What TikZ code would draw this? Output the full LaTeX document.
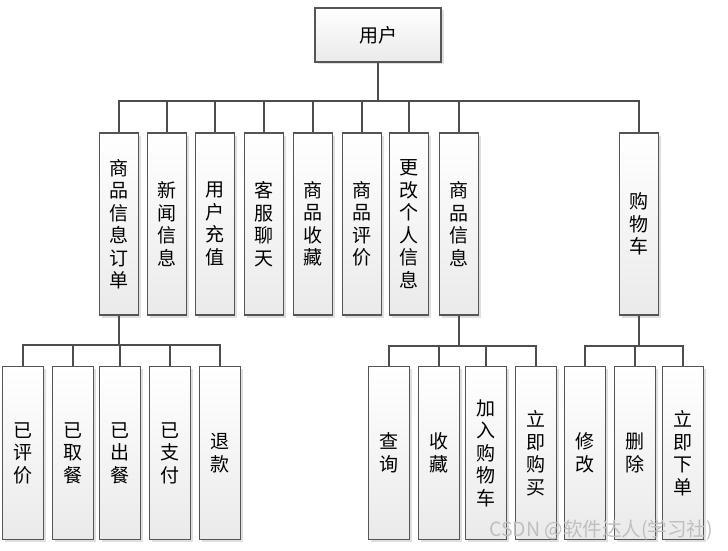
\documentclass[tikz,border=0pt]{standalone}
\usepackage{fontspec}
\setmainfont{Noto Sans CJK SC}
\usetikzlibrary{shadows}
\definecolor{boxline}{HTML}{555555}
\definecolor{boxfill}{HTML}{EAEAEA}
\definecolor{linkgray}{HTML}{4D4D4D}
\tikzset{
    rootbox/.style={rectangle, draw=boxline, line width=1.2pt, top color=white, bottom color=boxfill, minimum width=126pt, minimum height=54pt, font=\fontsize{19}{22.5}\selectfont, drop shadow={shadow xshift=2.5pt, shadow yshift=-2.5pt, fill=black!25, opacity=0.5}},
    midbox/.style={rootbox, minimum width=39pt, minimum height=182pt, align=center, inner sep=0pt},
    leafbox/.style={midbox, minimum width=41pt, minimum height=173pt},
    link/.style={draw=linkgray, line width=1.8pt}
}

\begin{document}
\begin{tikzpicture}[x=1pt, y=-1pt]
\useasboundingbox (0,0) rectangle (728,551);

% Level 0
\node[rootbox] (user) at (378,35) {用户};

% Level 1
\node[midbox] (order)    at (119,224) {商\\品\\信\\息\\订\\单};
\node[midbox] (news)     at (167,224) {新\\闻\\信\\息};
\node[midbox] (recharge) at (215,224) {用\\户\\充\\值};
\node[midbox] (service)  at (264,224) {客\\服\\聊\\天};
\node[midbox] (collect)  at (313,224) {商\\品\\收\\藏};
\node[midbox] (review)   at (362,224) {商\\品\\评\\价};
\node[midbox] (profile)  at (409,224) {更\\改\\个\\人\\信\\息};
\node[midbox] (goods)    at (459,224) {商\\品\\信\\息};
\node[midbox] (cart)     at (639,224) {购\\物\\车};

% Level 2
\node[leafbox] (rated)    at (23,453)  {已\\评\\价};
\node[leafbox] (taken)    at (73,453)  {已\\取\\餐};
\node[leafbox] (served)   at (120,453) {已\\出\\餐};
\node[leafbox] (paid)     at (170,453) {已\\支\\付};
\node[leafbox] (refund)   at (220,453) {退\\款};
\node[leafbox] (search)   at (389,453) {查\\询};
\node[leafbox] (star)     at (439,453) {收\\藏};
\node[leafbox] (addcart)  at (486,453) {加\\入\\购\\物\\车};
\node[leafbox] (buynow)   at (536,453) {立\\即\\购\\买};
\node[leafbox] (edit)     at (585,453) {修\\改};
\node[leafbox] (remove)   at (635,453) {删\\除};
\node[leafbox] (checkout) at (683,453) {立\\即\\下\\单};

% Bus points
\coordinate (bus0) at (378,101);
\coordinate (bus1) at (119,345);
\coordinate (bus2) at (459,346);
\coordinate (bus3) at (639,346);

% Draw links
\draw[link] (user) -- (bus0);
\foreach \c in {order,news,recharge,service,collect,review,profile,goods,cart}
  \draw[link] (bus0) -| (\c.north);
\draw[link] (order) -- (bus1);
\foreach \c in {rated,taken,served,paid,refund}
  \draw[link] (bus1) -| (\c.north);
\draw[link] (goods) -- (bus2);
\foreach \c in {search,star,addcart,buynow}
  \draw[link] (bus2) -| (\c.north);
\draw[link] (cart) -- (bus3);
\foreach \c in {edit,remove,checkout}
  \draw[link] (bus3) -| (\c.north);

\node[font=\fontsize{19.5}{22}\selectfont, text=gray!50, anchor=east, inner sep=0pt] (mark) at (713,530) {CSDN @软件达人(学习社)};

\end{tikzpicture}
\end{document}
